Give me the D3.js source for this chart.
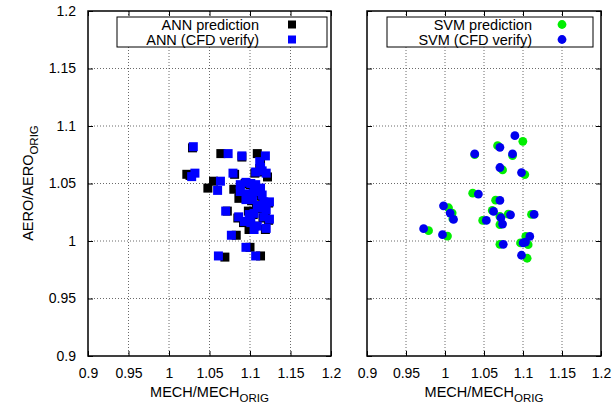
<!DOCTYPE html>
<html><head><meta charset="utf-8">
<script src="https://cdn.jsdelivr.net/npm/d3@7"></script>
<style>body{margin:0;background:#fff}svg{display:block;font-family:"Liberation Sans",Arial,Helvetica,sans-serif}</style>
</head><body>
<svg id="c" width="613" height="406"></svg>
<script>
const xTicks = [0.9,0.95,1,1.05,1.1,1.15,1.2];
const yTicks = [0.9,0.95,1,1.05,1.1,1.15,1.2];
const xTickLabels = ["0.9","0.95","1","1.05","1.1","1.15","1.2"];
const yTickLabels = ["0.9","0.95","1","1.05","1.1","1.15","1.2"];

const annPredX = [1.029,1.064,1.090,1.109,1.113,1.022,1.026,1.081,1.055,1.048,1.072,1.083,1.100,1.069,1.113,
  1.106,1.114,1.1216,1.112,1.094,1.080,1.100,1.106,1.112,1.087,1.096,1.104,1.114,1.116,1.123,
  1.0863,1.102,1.108,1.112,1.119,1.098,1.104,1.116,1.123,1.085,1.092,1.100,1.105,1.119,1.0988];
const annPredY = [1.081,1.076,1.073,1.076,1.067,1.058,1.057,1.058,1.052,1.046,1.026,1.005,0.9945,0.986,0.987,
  1.059,1.060,1.0557,1.063,1.050,1.045,1.049,1.048,1.045,1.042,1.040,1.042,1.039,1.033,1.033,
  1.0371,1.035,1.030,1.028,1.026,1.026,1.023,1.020,1.018,1.020,1.016,1.015,1.0129,1.010,1.010];
const annCfdX = [1.030,1.073,1.090,1.119,1.112,1.032,1.028,1.079,1.0635,1.060,1.070,1.077,1.095,1.061,1.107,
  1.107,1.115,1.120,1.113,1.095,1.088,1.101,1.107,1.113,1.088,1.097,1.105,1.115,1.117,1.124,
  1.095,1.103,1.109,1.113,1.120,1.099,1.105,1.117,1.124,1.086,1.093,1.101,1.109,1.120,1.105];
const annCfdY = [1.082,1.076,1.074,1.074,1.069,1.059,1.056,1.059,1.052,1.044,1.026,1.005,0.9945,0.987,0.987,
  1.060,1.061,1.059,1.064,1.051,1.049,1.050,1.049,1.046,1.043,1.041,1.043,1.040,1.034,1.034,
  1.036,1.036,1.031,1.029,1.027,1.023,1.024,1.021,1.019,1.021,1.017,1.016,1.013,1.011,1.010];

const svmPredX = [1.0998,1.0674,1.0866,1.0381,1.0738,1.1023,1.0355,1.0649,1.0045,1.0092,1.0100,1.0606,
  1.0811,1.1109,1.0483,1.0704,1.0704,0.9789,1.0032,1.0704,1.1036,1.1066,1.0968,1.1053];
const svmPredY = [1.0867,1.0829,1.0743,1.0751,1.0618,1.0578,1.0416,1.0355,1.0289,1.0243,1.0194,1.0266,
  1.0234,1.0231,1.0179,1.0214,1.0142,1.0090,1.0043,0.9971,1.0040,0.9968,0.9983,0.9850];
const svmCfdX = [1.0896,1.0704,1.0866,1.0381,1.0704,1.0981,1.0428,1.0704,0.9981,1.0066,1.0109,1.0623,
  1.0840,1.1143,1.0530,1.0717,1.0738,0.9726,0.9968,1.0747,1.1087,1.1032,1.1002,1.0981];
const svmCfdY = [1.0916,1.0815,1.0757,1.0757,1.0639,1.0595,1.0408,1.0353,1.0306,1.0243,1.0188,1.0257,
  1.0228,1.0231,1.0179,1.0202,1.0147,1.0107,1.0055,0.9971,1.0040,0.9991,0.9983,0.9876];

const svg = d3.select("#c");
const yTop = 11, yBot = 356;
const y = d3.scaleLinear().domain([0.9,1.2]).range([yBot, yTop]);

function panel(x0, x1, showY, series, legend, xlabel) {
  const x = d3.scaleLinear().domain([0.9,1.2]).range([x0, x1]);
  const g = svg.append("g");
  // grid
  g.append("g").selectAll("line").data(xTicks.slice(1,-1)).join("line")
    .attr("x1", d=>x(d)).attr("x2", d=>x(d)).attr("y1", yTop).attr("y2", yBot)
    .attr("stroke","#444").attr("stroke-width",0.8).attr("stroke-dasharray","1,2");
  g.append("g").selectAll("line").data(yTicks.slice(1,-1)).join("line")
    .attr("y1", d=>y(d)).attr("y2", d=>y(d)).attr("x1", x0).attr("x2", x1)
    .attr("stroke","#444").attr("stroke-width",0.8).attr("stroke-dasharray","1,2");
  // axes (ticks inward)
  const ax = g.append("g");
  const xb = ax.append("g").attr("transform",`translate(0,${yBot})`)
    .call(d3.axisBottom(x).tickValues(xTicks).tickFormat((d,i)=>xTickLabels[i]).tickSizeInner(-5).tickSizeOuter(0).tickPadding(12));
  const xt = ax.append("g").attr("transform",`translate(0,${yTop})`)
    .call(d3.axisTop(x).tickValues(xTicks).tickFormat("").tickSizeInner(-5).tickSizeOuter(0));
  const yl = ax.append("g").attr("transform",`translate(${x0},0)`)
    .call(d3.axisLeft(y).tickValues(yTicks).tickFormat(showY ? (d,i)=>yTickLabels[i] : "").tickSizeInner(-5).tickSizeOuter(0).tickPadding(12));
  const yr = ax.append("g").attr("transform",`translate(${x1},0)`)
    .call(d3.axisRight(y).tickValues(yTicks).tickFormat("").tickSizeInner(-5).tickSizeOuter(0));
  [xb,xt,yl,yr].forEach(a=>{
    a.select(".domain").remove();
    a.selectAll("line").attr("stroke","#000").attr("stroke-width",1);
    a.selectAll("text").attr("font-size",14).attr("font-family",'"Liberation Sans",Arial,sans-serif').attr("fill","#000");
  });
  // points
  series.forEach(s=>{
    const pts = s.xs.map((v,i)=>[v, s.ys[i]]);
    if (s.shape === "square") {
      g.append("g").selectAll("rect").data(pts).join("rect")
        .attr("x", d=>x(d[0])-4.5).attr("y", d=>y(d[1])-4.5).attr("width",9).attr("height",9).attr("fill", s.color);
    } else {
      g.append("g").selectAll("circle").data(pts).join("circle")
        .attr("cx", d=>x(d[0])).attr("cy", d=>y(d[1])).attr("r",4.4).attr("fill", s.color);
    }
  });
  // frame
  g.append("rect").attr("x",x0).attr("y",yTop).attr("width",x1-x0).attr("height",yBot-yTop)
    .attr("fill","none").attr("stroke","#000").attr("stroke-width",1.5);
  // legend
  const L = legend;
  g.append("rect").attr("x",L.bx0).attr("y",17).attr("width",L.bx1-L.bx0).attr("height",30)
    .attr("fill","#fff").attr("stroke","#000").attr("stroke-width",1);
  series.forEach((s,i)=>{
    const cy = 24.5 + i*15;
    g.append("text").attr("x",L.tx).attr("y",cy).attr("dy","0.36em").attr("text-anchor","end")
      .attr("font-size",14.5).text(s.name);
    if (s.shape === "square") {
      g.append("rect").attr("x",L.mx-4).attr("y",cy-4).attr("width",8).attr("height",8).attr("fill",s.color);
    } else {
      g.append("circle").attr("cx",L.mx).attr("cy",cy).attr("r",4.4).attr("fill",s.color);
    }
  });
  // x label
  const t = g.append("text").attr("x",(x0+x1)/2).attr("y",397).attr("text-anchor","middle").attr("font-size",14.5);
  t.append("tspan").text(xlabel);
  t.append("tspan").attr("dy",5).attr("font-size",11.5).text("ORIG");
}

panel(88, 331, true,
  [{name:"ANN prediction", xs:annPredX, ys:annPredY, color:"#000", shape:"square"},
   {name:"ANN (CFD verify)", xs:annCfdX, ys:annCfdY, color:"#0000ff", shape:"square"}],
  {bx0:117, bx1:327, tx:259, mx:292}, "MECH/MECH");
panel(367, 601, false,
  [{name:"SVM prediction", xs:svmPredX, ys:svmPredY, color:"#00ee00", shape:"circle"},
   {name:"SVM (CFD verify)", xs:svmCfdX, ys:svmCfdY, color:"#0000ee", shape:"circle"}],
  {bx0:387, bx1:593, tx:532, mx:562}, "MECH/MECH");

// y label
const yt = svg.append("text").attr("transform","translate(33,183) rotate(-90)").attr("text-anchor","middle").attr("font-size",14.5);
yt.append("tspan").text("AERO/AERO");
yt.append("tspan").attr("dy",5).attr("font-size",11.5).text("ORIG");
</script>
</body></html>
